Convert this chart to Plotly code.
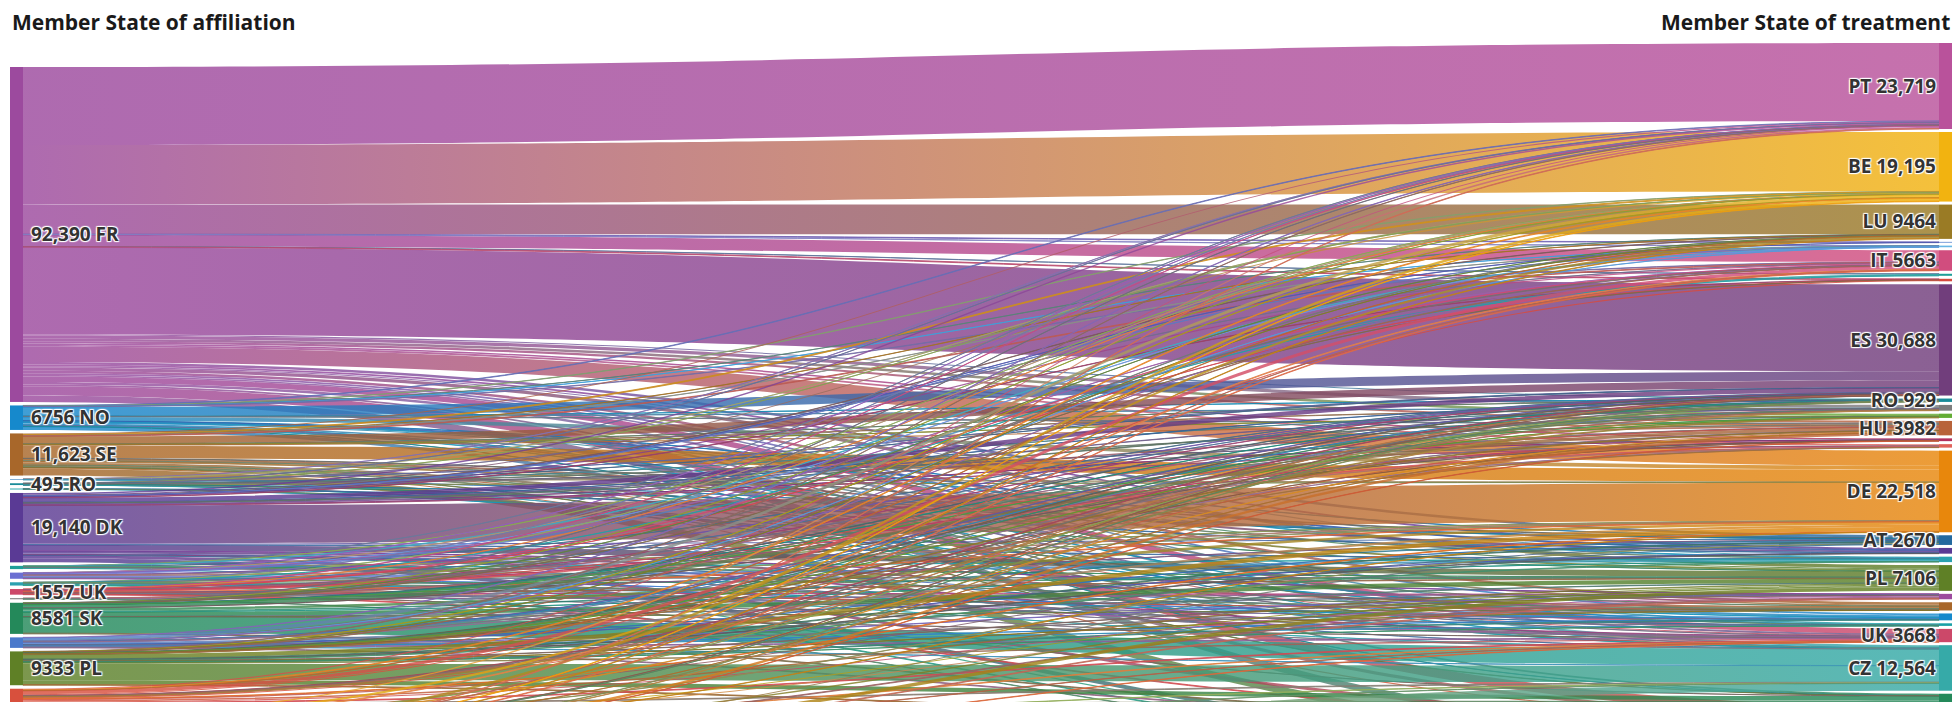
import json
import plotly.graph_objects as go

# ---------------- data ----------------
left_codes = ["FR", "NO", "SE", "LI", "RO", "IS", "DK", "EE", "LV", "LT", "UK", "MT", "SK", "NL", "PL",
              "CH", "BE", "LU", "DE"]
right_codes = ["PT", "BE", "LU", "NL", "FI", "IT", "EE", "HR", "ES", "RO", "MT", "SI", "HU", "GR", "CY", "DE", "AT",
               "DK", "LT", "PL", "FR", "SE", "NO", "IS", "UK", "CZ", "SK", "CH", "IE"]

# published totals shown as labels
left_totals = {"FR": 92390, "NO": 6756, "SE": 11623, "RO": 495, "DK": 19140, "UK": 1557, "SK": 8581, "PL": 9333}
right_totals = {"PT": 23719, "BE": 19195, "LU": 9464, "IT": 5663, "ES": 30688, "RO": 929, "HU": 3982,
                "DE": 22518, "AT": 2670, "PL": 7106, "UK": 3668, "CZ": 12564}

flows_FR = {"PT": 21500, "BE": 16400, "LU": 8200, "NL": 150, "FI": 60, "IT": 3200, "EE": 50, "HR": 200, "ES": 24000,
            "RO": 300, "MT": 900, "SI": 700, "HU": 600, "GR": 400, "CY": 500, "DE": 4200, "AT": 700, "DK": 500,
            "LT": 300, "PL": 900, "SE": 700, "NO": 500, "IS": 430, "UK": 1500, "CZ": 700, "SK": 500, "CH": 2500,
            "IE": 1800}
flows_NO = {"PT": 150, "BE": 100, "LU": 40, "FI": 30, "IT": 120, "ES": 2500, "RO": 40, "MT": 60, "HU": 150,
            "DE": 1000, "AT": 80, "DK": 250, "LT": 186, "PL": 300, "SE": 400, "IS": 60, "UK": 250, "CZ": 100,
            "SK": 40, "CH": 900}
flows_SE = {"PT": 300, "BE": 250, "LU": 60, "FI": 50, "IT": 200, "ES": 2000, "RO": 60, "MT": 100, "SI": 50, "HU": 300,
            "DE": 3500, "AT": 150, "DK": 500, "LT": 100, "PL": 500, "NO": 600, "IS": 100, "UK": 300, "CZ": 200,
            "SK": 100, "CH": 300, "IE": 1903}
flows_LI = {"PT": 40, "BE": 30, "ES": 20, "DE": 30, "AT": 50, "CZ": 20}
flows_RO = {"PT": 20, "BE": 20, "IT": 30, "ES": 40, "MT": 20, "HU": 100, "GR": 40, "CY": 60, "DE": 40, "AT": 30,
            "PL": 35, "UK": 40, "CZ": 20}
flows_IS = {"DK": 120, "NO": 80, "SE": 50}
flows_DK = {"PT": 400, "BE": 300, "LU": 90, "NL": 50, "FI": 60, "IT": 350, "HR": 100, "ES": 1200, "RO": 80, "MT": 100,
            "SI": 150, "HU": 450, "GR": 60, "CY": 80, "DE": 10500, "AT": 300, "LT": 100, "PL": 1600, "FR": 100,
            "SE": 600, "NO": 300, "IS": 50, "UK": 200, "CZ": 20, "CH": 800, "IE": 1100}
flows_EE = {"PT": 30, "BE": 20, "FI": 150, "ES": 60, "DE": 100, "LT": 40, "PL": 40, "SE": 80, "UK": 30, "IE": 350}
flows_LV = {"PT": 40, "BE": 30, "FI": 60, "IT": 40, "EE": 450, "ES": 90, "HU": 30, "DE": 150, "LT": 600, "PL": 80,
            "NO": 30, "UK": 100}
flows_LT = {"PT": 30, "BE": 20, "EE": 60, "ES": 30, "HU": 20, "DE": 50, "PL": 120, "SE": 200, "NO": 100, "UK": 40,
            "CZ": 30, "IE": 200}
flows_UK = {"PT": 60, "BE": 40, "IT": 70, "HR": 47, "ES": 100, "RO": 20, "MT": 120, "HU": 60, "GR": 80, "CY": 150,
            "DE": 200, "AT": 30, "PL": 150, "FR": 80, "SE": 30, "NO": 30, "IS": 20, "CZ": 40, "SK": 20, "CH": 210}
flows_MT = {"GR": 40, "CY": 80, "FR": 60, "IE": 120}
flows_SK = {"PT": 80, "BE": 60, "LU": 30, "IT": 150, "HR": 40, "ES": 100, "RO": 30, "MT": 20, "SI": 30, "HU": 900,
            "GR": 20, "DE": 700, "AT": 400, "LT": 20, "PL": 1200, "FR": 50, "SE": 21, "UK": 30, "CZ": 4500, "CH": 200}
flows_NL = {"PT": 120, "BE": 800, "LU": 120, "FI": 40, "IT": 60, "ES": 100, "RO": 20, "MT": 30, "HU": 40, "CY": 40,
            "DE": 600, "AT": 50, "DK": 60, "PL": 100, "FR": 100, "SE": 80, "NO": 50, "IS": 30, "UK": 200, "CZ": 60,
            "CH": 200}
flows_PL = {"PT": 90, "BE": 80, "LU": 40, "IT": 130, "ES": 150, "RO": 60, "MT": 40, "SI": 40, "HU": 200, "GR": 30,
            "CY": 50, "DE": 1200, "AT": 200, "DK": 150, "LT": 150, "FR": 100, "SE": 100, "NO": 200, "IS": 23,
            "UK": 400, "CZ": 4500, "SK": 1200, "CH": 200}
flows_CH = {"PT": 300, "BE": 200, "LU": 100, "IT": 900, "HR": 300, "ES": 150, "RO": 150, "MT": 100, "SI": 200,
            "HU": 300, "DE": 150, "AT": 300, "PL": 400, "FR": 300, "UK": 200, "CZ": 200, "SK": 500, "IE": 2000}
flows_BE = {"PT": 400, "LU": 650, "IT": 200, "ES": 100, "RO": 40, "HU": 100, "AT": 80, "PL": 300, "FR": 300,
            "UK": 150, "CZ": 100, "CH": 600, "IE": 1200}
flows_LU = {"BE": 700, "IT": 53, "ES": 48, "RO": 29, "HU": 32, "DE": 98, "PL": 381, "FR": 200, "UK": 100, "CZ": 74,
            "CH": 300, "IE": 500}
flows_DE = {"PT": 159, "BE": 145, "LU": 134, "IT": 160, "RO": 100, "MT": 100, "HU": 700, "GR": 100, "AT": 300,
            "PL": 1000, "FR": 200, "UK": 128, "CZ": 2000, "SK": 300, "CH": 2500, "IE": 2700}

country_colors = {
    "FR": "#9c4a9e", "PT": "#b9529b", "BE": "#f2b310", "LU": "#9a7b25", "IT": "#d14d7e", "ES": "#713e7c",
    "RO": "#188c99", "HU": "#b8633a", "DE": "#e8870c", "AT": "#23699f", "PL": "#5f8026", "UK": "#cc4869",
    "CZ": "#36aaa8", "SK": "#24895a", "NO": "#1689cc", "SE": "#a8672a", "DK": "#5a3a95", "NL": "#4a79cb",
    "FI": "#67b7e6", "EE": "#1e9e98", "HR": "#d7493d", "CH": "#d8503d", "MT": "#7d7d7d", "SI": "#63ad35",
    "GR": "#b2305e", "CY": "#e0625a", "LT": "#2aa1b0", "IS": "#19a0a6", "LV": "#6c6fd2", "LI": "#4f8fc2",
    "IE": "#2e9c5e",
}

flows_by_source = {
    "FR": flows_FR, "NO": flows_NO, "SE": flows_SE, "LI": flows_LI, "RO": flows_RO, "IS": flows_IS,
    "DK": flows_DK, "EE": flows_EE, "LV": flows_LV, "LT": flows_LT, "UK": flows_UK, "MT": flows_MT,
    "SK": flows_SK, "NL": flows_NL, "PL": flows_PL, "CH": flows_CH, "BE": flows_BE, "LU": flows_LU,
    "DE": flows_DE,
}

# ---------------- layout constants ----------------
FIG_W = 1954
M_L, M_R, M_T, M_B = 10, 2, 30, 30
NODE_W = 13
PAD_R = 3.0
PAD_L = 3.5
TOP_L = 67   # page px where first affiliation node starts
TOP_R = 43   # page px where first treatment node starts
KY = 0.003626  # px per patient
LINK_ALPHA = 0.82

# ---------------- build links ----------------
nL = len(left_codes)
right_index = {c: nL + j for j, c in enumerate(right_codes)}
sources, targets, values, src_cols, tgt_cols = [], [], [], [], []
for i, sc in enumerate(left_codes):
    for tc, v in flows_by_source[sc].items():
        sources.append(i)
        targets.append(right_index[tc])
        values.append(v)
        src_cols.append(country_colors[sc])
        tgt_cols.append(country_colors[tc])

left_vals = [sum(flows_by_source[c].values()) for c in left_codes]
right_vals = [0] * len(right_codes)
for t, v in zip(targets, values):
    right_vals[t - nL] += v

bad = []
for c, tot in left_totals.items():
    if left_vals[left_codes.index(c)] != tot:
        bad.append(("L", c, left_vals[left_codes.index(c)], tot))
for c, tot in right_totals.items():
    if right_vals[right_codes.index(c)] != tot:
        bad.append(("R", c, right_vals[right_codes.index(c)], tot))
assert not bad, str(bad)


def fmt(v):
    return f"{v:,}" if v >= 10000 else str(v)


def hex_rgb(h):
    h = h.lstrip("#")
    return tuple(int(h[k:k + 2], 16) for k in (0, 2, 4))


def mix(a, b, alpha):
    ra, rb = hex_rgb(a), hex_rgb(b)
    m = [int(round((x + y) / 2)) for x, y in zip(ra, rb)]
    return f"rgba({m[0]},{m[1]},{m[2]},{alpha})"


T = sum(values)
n_max = max(len(left_codes), len(right_codes))
FIG_H = int(round(M_T + M_B + T * KY + (n_max - 1) * PAD_R))
H_DOM = FIG_H - M_T - M_B
ky = (H_DOM - (n_max - 1) * PAD_R) / T
W_DOM = FIG_W - M_L - M_R


def column_y(vals, top, pad):
    ys, y = [], top
    for v in vals:
        h = v * ky
        ys.append((y + h / 2 - M_T) / H_DOM)
        y += h + pad
    return ys


x_left = (NODE_W / 2) / W_DOM
node_x = [x_left] * nL + [1 - x_left] * len(right_codes)
node_y = column_y(left_vals, TOP_L, PAD_L) + column_y(right_vals, TOP_R, PAD_R)

labels = []
for c, v in zip(left_codes, left_vals):
    labels.append(f" {fmt(v)} {c}" if c in left_totals else "")
for c, v in zip(right_codes, right_vals):
    labels.append(f"{c} {fmt(v)}" if c in right_totals else "")
node_colors = [country_colors[c] for c in left_codes] + [country_colors[c] for c in right_codes]
link_colors = [mix(a, b, LINK_ALPHA) for a, b in zip(src_cols, tgt_cols)]

fig = go.Figure(go.Sankey(
    arrangement="fixed",
    node=dict(label=labels, color=node_colors, x=node_x, y=node_y, pad=PAD_R, thickness=NODE_W,
              line=dict(width=0), hoverinfo="none"),
    link=dict(source=sources, target=targets, value=values, color=link_colors,
              line=dict(color="rgba(255,255,255,0.6)", width=0), hoverinfo="none"),
    textfont=dict(family="Open Sans, Lato, sans-serif", size=19, color="#333333", weight="bold"),
))

title_y = 1 + (M_T - 22) / H_DOM
fig.update_layout(
    width=FIG_W, height=FIG_H,
    margin=dict(l=M_L, r=M_R, t=M_T, b=M_B),
    paper_bgcolor="white",
    font=dict(family="Open Sans, Lato, sans-serif"),
    annotations=[
        dict(text="<b>Member State of affiliation</b>", xref="paper", yref="paper", x=0, y=title_y,
             xanchor="left", yanchor="middle", showarrow=False,
             font=dict(size=21, color="#1a1a1a", family="Open Sans, sans-serif")),
        dict(text="<b>Member State of treatment</b>", xref="paper", yref="paper", x=1, y=title_y,
             xanchor="right", yanchor="middle", showarrow=False,
             font=dict(size=21, color="#1a1a1a", family="Open Sans, sans-serif")),
    ],
)

post = """
(function(){
var gd = document.getElementById('{plot_id}');
document.documentElement.style.overflow = 'hidden';
document.body.style.margin = '0';
document.body.style.overflow = 'hidden';
var SRC = __SRC__, TGT = __TGT__;
function paint(){
  var svg = gd.querySelector('svg.main-svg');
  if(!svg) return;
  var ns = 'http://www.w3.org/2000/svg';
  var defs = svg.querySelector('defs');
  if(!defs){ defs = document.createElementNS(ns, 'defs'); svg.insertBefore(defs, svg.firstChild); }
  gd.querySelectorAll('path.sankey-link').forEach(function(el){
    var d = el.__data__; if(!d) return;
    var k = (d.link && d.link.pointNumber !== undefined) ? d.link.pointNumber : d.pointNumber;
    if(k === undefined || k === null) return;
    var id = 'lkg' + k;
    if(!document.getElementById(id)){
      var g = document.createElementNS(ns, 'linearGradient');
      g.setAttribute('id', id);
      g.setAttribute('x1', '0'); g.setAttribute('y1', '0'); g.setAttribute('x2', '1'); g.setAttribute('y2', '0');
      [[0, SRC[k]], [1, TGT[k]]].forEach(function(s){
        var st = document.createElementNS(ns, 'stop');
        st.setAttribute('offset', s[0]); st.setAttribute('stop-color', s[1]);
        g.appendChild(st);
      });
      defs.appendChild(g);
    }
    el.style.fill = 'url(#' + id + ')';
  });
}
paint();
gd.on('plotly_afterplot', paint);
})();
""".replace("__SRC__", json.dumps(src_cols)).replace("__TGT__", json.dumps(tgt_cols))

fig.write_html("out.html", post_script=post, config={"displayModeBar": False})
